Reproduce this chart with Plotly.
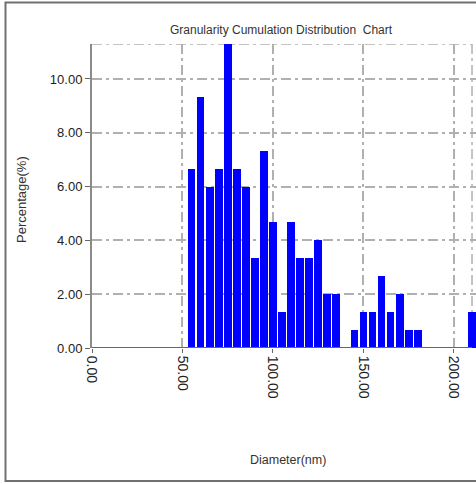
import plotly.graph_objects as go

# Particle size distribution (diameter in nm, share of particles in %)
diameters = [55, 60, 65, 70, 75, 80, 85, 90, 95, 100, 105, 110, 115, 120, 125,
             130, 135, 145, 150, 155, 160, 165, 170, 175, 180, 210]
percentages = [6.67, 9.33, 6.00, 6.67, 11.33, 6.67, 6.00, 3.33, 7.33, 4.67, 1.33,
               4.67, 3.33, 3.33, 4.00, 2.00, 2.00, 0.67, 1.33, 1.33, 2.67, 1.33,
               2.00, 0.67, 0.67, 1.33]
x_ticks = [0, 50, 100, 150, 200]
y_ticks = [0, 2, 4, 6, 8, 10]

W, H = 476, 484
L, R, T, B = 92, 0, 44, 136
X_MAX, Y_MAX = 212.2, 11.3
X_END = 210

NARROW = "Liberation Sans Narrow, Arial Narrow, sans-serif"
REGULAR = "Liberation Sans, Arial, sans-serif"
GRID = "#b0b0b0"
DASHDOT = "10px,4px,3px,4px"


def px_x(p):
    return (p - L) / (W - L - R)


def px_y(p):
    return (H - B - p) / (H - T - B)


fig = go.Figure(
    go.Bar(
        x=diameters,
        y=percentages,
        width=4.3,
        marker=dict(color="#0000ff", line=dict(width=0)),
        hoverinfo="x+y",
    )
)

fig.update_layout(
    width=W,
    height=H,
    margin=dict(l=L, r=R, t=T, b=B, pad=0),
    paper_bgcolor="white",
    plot_bgcolor="white",
    showlegend=False,
    bargap=0,
)

fig.update_xaxes(
    range=[0, X_MAX],
    tickvals=x_ticks,
    ticktext=[f"{v:.2f}" for v in x_ticks],
    tickangle=90,
    ticks="outside",
    ticklen=4,
    tickcolor="#666666",
    tickfont=dict(family=REGULAR, size=14, color="#222222"),
    showgrid=True,
    gridcolor=GRID,
    gridwidth=1.5,
    griddash=DASHDOT,
    zeroline=False,
    showline=False,
)

fig.update_yaxes(
    range=[0, Y_MAX],
    tickvals=y_ticks,
    ticktext=[f"{v:.2f}" for v in y_ticks],
    ticks="outside",
    ticklen=5,
    tickcolor="#666666",
    tickfont=dict(family=NARROW, size=13, color="#222222"),
    showgrid=True,
    gridcolor=GRID,
    gridwidth=1.5,
    griddash=DASHDOT,
    zeroline=False,
    showline=True,
    linecolor="#8a8a8a",
    linewidth=2,
)

shapes = [
    # dash-dot frame on top and right of the plotting area
    dict(type="line", xref="x", yref="y", x0=0, x1=X_END, y0=Y_MAX, y1=Y_MAX,
         line=dict(color=GRID, width=1.5, dash=DASHDOT), layer="below"),
    dict(type="line", xref="x", yref="y", x0=X_END, x1=X_END, y0=0, y1=Y_MAX,
         line=dict(color=GRID, width=1.5, dash=DASHDOT), layer="below"),
    # x axis baseline
    dict(type="line", xref="x", yref="y", x0=0, x1=X_END, y0=0, y1=0,
         line=dict(color="#666666", width=2), layer="above"),
    # outer border of the chart panel
    dict(type="rect", xref="paper", yref="paper",
         x0=px_x(5.5), x1=px_x(520), y0=px_y(481), y1=px_y(2.5),
         line=dict(color="#707070", width=2), fillcolor="rgba(0,0,0,0)"),
]
fig.update_layout(shapes=shapes)

annotations = [
    dict(text="Granularity Cumulation Distribution  Chart",
         x=px_x(281.5), y=px_y(30), xref="paper", yref="paper",
         showarrow=False, xanchor="center", yanchor="middle",
         font=dict(family=NARROW, size=12, color="#333333")),
    dict(text="Diameter(nm)",
         x=px_x(287.5), y=px_y(460), xref="paper", yref="paper",
         showarrow=False, xanchor="center", yanchor="middle",
         font=dict(family=NARROW, size=12.5, color="#333333")),
    dict(text="Percentage(%)",
         x=px_x(22), y=px_y(200), xref="paper", yref="paper",
         showarrow=False, xanchor="center", yanchor="middle", textangle=-90,
         font=dict(family=REGULAR, size=13, color="#333333")),
]
fig.update_layout(annotations=annotations)

fig.write_html("out.html")
